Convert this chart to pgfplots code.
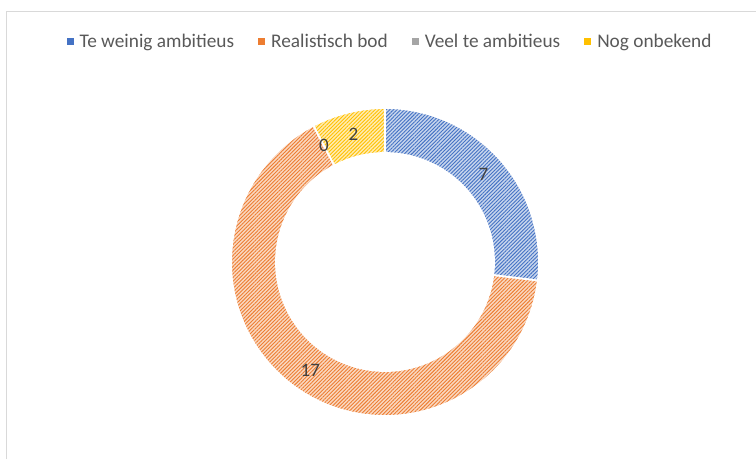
\documentclass[border=0pt]{standalone}
\usepackage{pgfplots}
\pgfplotsset{compat=1.18}
\usepackage{fontspec}
\setmainfont{Carlito}
\usetikzlibrary{patterns.meta}
\definecolor{cblue}{HTML}{4472C4}
\definecolor{corange}{HTML}{ED7D31}
\definecolor{cgray}{HTML}{A5A5A5}
\definecolor{cyellow}{HTML}{FFC000}
\definecolor{ctext}{HTML}{595959}
\definecolor{clabel}{HTML}{404040}
\definecolor{cborder}{HTML}{D9D9D9}
\begin{document}
\begin{tikzpicture}
\useasboundingbox (0,0) rectangle (756pt,459pt);
\begin{axis}[
  at={(0,0)}, anchor=south west,
  scale only axis, width=756pt, height=459pt,
  xmin=0, xmax=756, ymin=0, ymax=459,
  hide axis, clip=false,
  legend columns=4,
  legend style={draw=none, fill=none, at={(axis cs:390,417)}, anchor=center,
    font=\fontsize{19.3}{22}\selectfont, text=ctext,
    /tikz/every even column/.append style={column sep=22pt}},
]
\addlegendimage{legend image code/.code={\path[draw=none,fill=none] (0pt,0pt) rectangle (11pt,0.1pt);\fill[draw=none,cblue] (0pt,-3.5pt) rectangle (7pt,3.5pt);}}
\addlegendentry{Te weinig ambitieus}
\addlegendimage{legend image code/.code={\path[draw=none,fill=none] (0pt,0pt) rectangle (11pt,0.1pt);\fill[draw=none,corange] (0pt,-3.5pt) rectangle (7pt,3.5pt);}}
\addlegendentry{Realistisch bod}
\addlegendimage{legend image code/.code={\path[draw=none,fill=none] (0pt,0pt) rectangle (11pt,0.1pt);\fill[draw=none,cgray] (0pt,-3.5pt) rectangle (7pt,3.5pt);}}
\addlegendentry{Veel te ambitieus}
\addlegendimage{legend image code/.code={\path[draw=none,fill=none] (0pt,0pt) rectangle (11pt,0.1pt);\fill[draw=none,cyellow] (0pt,-3.5pt) rectangle (7pt,3.5pt);}}
\addlegendentry{Nog onbekend}
\draw[cborder, line width=1.5pt] (axis cs:6.5,0) -- (axis cs:6.5,447.5) -- (axis cs:757,447.5);
\pgfplotsextra{
  \begin{scope}[shift={(axis cs:385,197)}]
  \foreach \v/\c [remember=\e as \s (initially 90)] in {7/cblue,17/corange,0/cgray,2/cyellow}{
    \pgfmathsetmacro\e{\s-\v/26*360}
    \ifnum\v>0
      \path[draw=white, line width=1.8pt,
        preaction={fill=\c!30!white},
        pattern={Lines[angle=45,distance=2.6pt,line width=0.9pt]}, pattern color=\c]
        (\s:154pt) arc[start angle=\s, end angle=\e, radius=154pt]
        -- (\e:109pt) arc[start angle=\e, end angle=\s, radius=109pt] -- cycle;
    \fi
  }
  \foreach \v [remember=\e as \s (initially 90)] in {7,17,0,2}{
    \pgfmathsetmacro\e{\s-\v/26*360}
    \pgfmathsetmacro\m{(\s+\e)/2}
    \node[text=clabel, font=\fontsize{19}{22}\selectfont, inner sep=0pt] at (\m:131.5pt) {\v};
  }
  \end{scope}
}
\end{axis}
\end{tikzpicture}
\end{document}
